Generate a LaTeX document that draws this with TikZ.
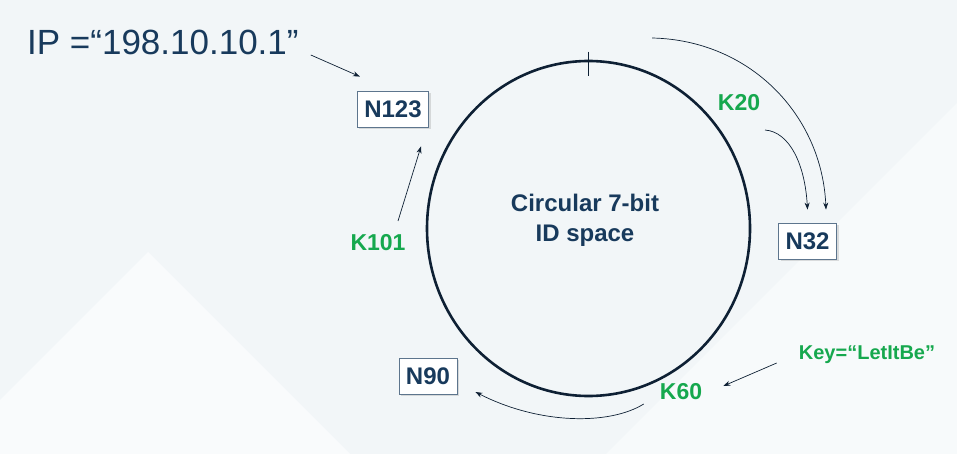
\documentclass[tikz,border=0pt]{standalone}
\usepackage{fontspec}
\setmainfont{Liberation Sans}
\usetikzlibrary{arrows.meta,shadows,shapes.geometric}
\definecolor{navy}{RGB}{24,58,92}
\definecolor{inkline}{RGB}{14,32,52}
\definecolor{keygreen}{RGB}{22,168,78}
\definecolor{backdrop}{RGB}{242,246,248}
\begin{document}
\begin{tikzpicture}[x=1pt,y=-1pt,
    peer/.style={draw=navy!70,fill=white,line width=0.8pt,text=navy,
        font=\fontsize{24}{24}\selectfont\bfseries,minimum height=36,inner xsep=7,
        drop shadow={opacity=0.25,shadow xshift=2pt,shadow yshift=-2pt}},
    keylabel/.style={text=keygreen,font=\fontsize{23}{23}\selectfont\bfseries,inner sep=0},
    arr/.style={-{Stealth[length=7pt,width=5pt]},line width=0.7pt,draw=inkline},
    ring/.style={draw=inkline,line width=2.6pt,ellipse,minimum width=323,
        minimum height=335,inner sep=0}]
    \fill[backdrop] (0,0) rectangle (957,454);
    \fill[white,opacity=0.6] (148,252) -- (350,454) -- (0,454) -- (0,400) -- cycle;
    \fill[white,opacity=0.45] (957,103) -- (957,454) -- (606,454) -- cycle;
    \useasboundingbox (0,0) rectangle (957,454);

    \node[anchor=base west,text=navy,font=\fontsize{35}{35}\selectfont,inner sep=0] (ip)
        at (27,55) {IP =“198.10.10.1”};
    \node[ring] (ring) at (588.5,228.5) {};
    \node[text=navy,font=\fontsize{24}{30}\selectfont\bfseries,align=center] (idspace)
        at (585,220) {Circular 7-bit\\ID space};
    \node[peer] (n123) at (393,109) {N123};
    \node[peer] (n32) at (807.5,241) {N32};
    \node[peer] (n90) at (428,376) {N90};
    \node[keylabel] (k20) at (739,103) {K20};
    \node[keylabel] (k101) at (378,243) {K101};
    \node[keylabel] (k60) at (681,392) {K60};
    \node[keylabel,font=\fontsize{20}{20}\selectfont\bfseries] (letitbe) at (867,355) {Key=“LetItBe”};
    \coordinate (orbit) at (652,38);

    \draw[inkline] ([shift={(0,-8)}]ring.north) -- ([shift={(0,16)}]ring.north);
    \draw[arr] ([shift={(12,0)}]ip.base east) -- ([shift={(3,-14)}]n123.north west);
    \draw[arr] ([shift={(20,-22)}]k101.center) -- ([shift={(28,19)}]n123.south);
    \draw[arr] ([shift={(26,27)}]k20.center) .. controls (790,132) and (805,165) .. ([shift={(0,-13)}]n32.north);
    \draw[arr] (orbit) .. controls (750,40) and (822,115) .. ([shift={(18.5,-13)}]n32.north);
    \draw[arr] ([shift={(-22,8)}]letitbe.west) -- ([shift={(21,-6)}]k60.east);
    \draw[arr] ([shift={(-16,12)}]k60.west) .. controls (610,425) and (540,425) .. ([shift={(18,16)}]n90.east);
\end{tikzpicture}
\end{document}
